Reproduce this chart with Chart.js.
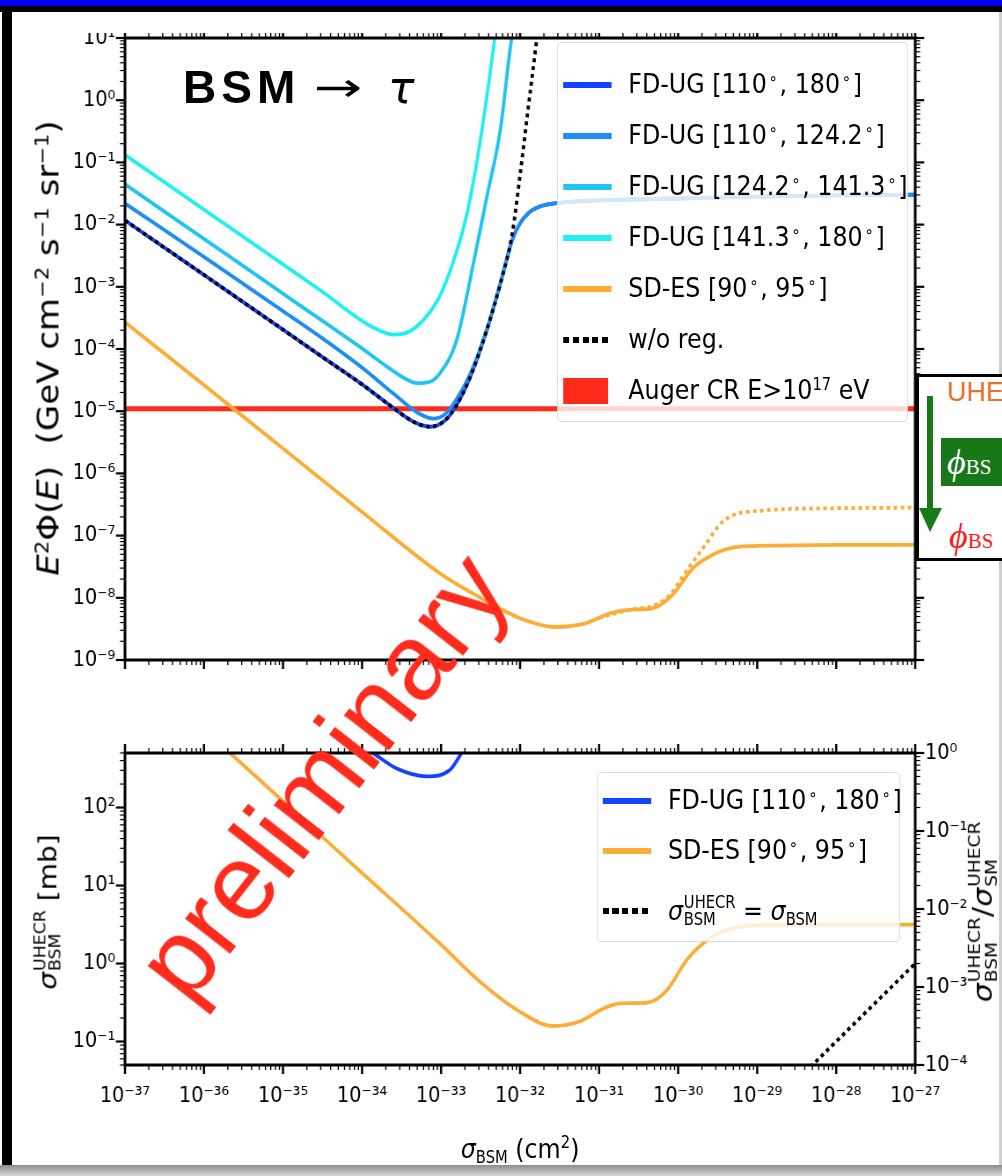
<!DOCTYPE html>
<html>
<head>
<meta charset="utf-8">
<title>BSM → τ limits</title>
<script src="https://cdn.jsdelivr.net/npm/chart.js@4.4.1/dist/chart.umd.min.js"></script>
<style>
  html, body { margin: 0; padding: 0; }
  body { position: relative; width: 1002px; height: 1176px; overflow: hidden; background: #fff;
         font-family: 'DejaVu Sans', sans-serif; color: #000; }
  .abs { position: absolute; }
  #bar { left: 0; top: 0; width: 1002px; height: 6px; background: #0000f2; }
  #frameTop { left: 0; top: 6px; width: 1002px; height: 6px; background: #000; }
  #frameLeft { left: 2px; top: 6px; width: 10px; height: 1170px; background: #000; }
  #rightLine { left: 999px; top: 12px; width: 3px; height: 1153px; background: #cfcfcf; }
  #bottomBar { left: 0; top: 1165px; width: 1002px; height: 11px; background: linear-gradient(#8c8c8c, #d8d8d8); }

  /* the matplotlib figure is squeezed horizontally in the slide: draw it wide, then scale */
  #fig { left: 0; top: 0; width: 1139px; height: 1176px; transform: scaleX(0.88); transform-origin: 0 0; }
  #topWrap { left: 0; top: 33px; width: 1139px; height: 667px; overflow: hidden; }
  #botWrap { left: 0; top: 700px; width: 1139px; height: 465px; }

  sup { font-size: 0.62em; vertical-align: 0.55em; line-height: 0; }
  sub { font-size: 0.62em; vertical-align: -0.3em; line-height: 0; }
  .deg { padding: 0 0.12em; }
  .ss { display: inline-flex; flex-direction: column; font-size: 0.62em; line-height: 1.0;
        vertical-align: 0.72em; margin-left: 1px; }

  .legend { position: absolute; background: rgba(255,255,255,0.8); border: 1px solid #d9d9d9;
            border-radius: 5px; box-sizing: border-box; font-size: 27px; }
  .row { position: absolute; left: 0; width: 100%; height: 0; }
  .sw { position: absolute; left: 6px; top: -3px; width: 55px; height: 6px; }
  .sw.dots { background: repeating-linear-gradient(90deg, #000 0 7px, transparent 7px 11px); width: 52px; }
  .sw.patch { top: -13px; height: 26px; width: 51px; }
  .txt { position: absolute; left: 80px; top: 0; transform: translateY(-52%); white-space: nowrap; line-height: 1.2; }

  .vt { transform: translate(-50%, -50%) rotate(-90deg); white-space: nowrap; line-height: 1.2; }

  #bsm { left: 183px; top: 64px; font-family: 'Liberation Sans', Arial, sans-serif; font-weight: bold;
         font-size: 46px; letter-spacing: 5px; line-height: 1; white-space: nowrap; }
  #arrow { left: 314px; top: 67px; font-size: 40px; line-height: 1; transform: scaleX(1.45); transform-origin: 0 0; }
  #tau { left: 388px; top: 66px; font-size: 44px; line-height: 1; font-style: italic; }

  #prelim { left: 322px; top: 776px; transform: translate(-50%, -50%) rotate(-52deg);
            font-family: 'Liberation Sans', Arial, sans-serif; font-size: 108px; line-height: 1;
            color: #ff2b1c; white-space: nowrap; }

  #inset { left: 916px; top: 374px; width: 120px; height: 187px; border: 3px solid #000;
           background: #fff; box-sizing: border-box; }
  #uhe { left: 947px; top: 379px; font-family: 'Liberation Sans', Arial, sans-serif; font-size: 27px;
         color: #e8712c; line-height: 1; }
  #gbox { left: 941px; top: 438px; width: 80px; height: 48px; background: #187818; }
  .phi { font-family: 'Liberation Serif', 'DejaVu Serif', serif; line-height: 1; white-space: nowrap; }
  .phi i { font-size: 36px; }
  .phi span { font-size: 21px; }
  #gphi { left: 947px; top: 444px; color: #fff; }
  #rphi { left: 949px; top: 518px; color: #ff1a1a; }
</style>
</head>
<body>
<div class="abs" id="bar"></div>
<div class="abs" id="frameTop"></div>
<div class="abs" id="frameLeft"></div>
<div class="abs" id="rightLine"></div>
<div class="abs" id="bottomBar"></div>

<div class="abs" id="fig">
  <div class="abs" id="topWrap"><canvas id="cTop" width="1139" height="667" style="width:1139px;height:667px"></canvas></div>
  <div class="abs" id="botWrap"><canvas id="cBot" width="1139" height="465" style="width:1139px;height:465px"></canvas></div>

  <!-- axis titles -->
  <div class="abs vt" style="left:55px;top:348px;font-size:34px"><i>E</i><sup>2</sup>Φ(<i>E</i>)&nbsp;&nbsp;(GeV cm<sup>−2</sup> s<sup>−1</sup> sr<sup>−1</sup>)</div>
  <div class="abs vt" style="left:55px;top:912px;font-size:28px"><i>σ</i><span class="ss"><span>UHECR</span><span>BSM</span></span> [mb]</div>
  <div class="abs vt" style="left:1117px;top:912px;font-size:30px"><i>σ</i><span class="ss"><span>UHECR</span><span>BSM</span></span>/<i>σ</i><span class="ss"><span>UHECR</span><span>SM</span></span></div>
  <div class="abs" style="left:591px;top:1148px;transform:translate(-50%,-50%);font-size:27px;white-space:nowrap"><i>σ</i><sub>BSM</sub> (cm<sup>2</sup>)</div>

  <!-- legends -->
  <div class="legend" style="left:633px;top:42px;width:399px;height:380px">
    <div class="row" style="top:42px"><span class="sw" id="swFd1"></span><span class="txt">FD-UG [110<sup class="deg">∘</sup>, 180<sup class="deg">∘</sup>]</span></div>
    <div class="row" style="top:93px"><span class="sw" id="swFd2"></span><span class="txt">FD-UG [110<sup class="deg">∘</sup>, 124.2<sup class="deg">∘</sup>]</span></div>
    <div class="row" style="top:144px"><span class="sw" id="swFd3"></span><span class="txt">FD-UG [124.2<sup class="deg">∘</sup>, 141.3<sup class="deg">∘</sup>]</span></div>
    <div class="row" style="top:195px"><span class="sw" id="swFd4"></span><span class="txt">FD-UG [141.3<sup class="deg">∘</sup>, 180<sup class="deg">∘</sup>]</span></div>
    <div class="row" style="top:246px"><span class="sw" id="swSd"></span><span class="txt">SD-ES [90<sup class="deg">∘</sup>, 95<sup class="deg">∘</sup>]</span></div>
    <div class="row" style="top:297px"><span class="sw dots"></span><span class="txt">w/o reg.</span></div>
    <div class="row" style="top:348px"><span class="sw patch" id="swAuger"></span><span class="txt">Auger CR E&gt;10<sup>17</sup> eV</span></div>
  </div>
  <div class="legend" style="left:678px;top:772px;width:345px;height:170px">
    <div class="row" style="top:28px"><span class="sw" id="swBFd1"></span><span class="txt">FD-UG [110<sup class="deg">∘</sup>, 180<sup class="deg">∘</sup>]</span></div>
    <div class="row" style="top:78px"><span class="sw" id="swBSd"></span><span class="txt">SD-ES [90<sup class="deg">∘</sup>, 95<sup class="deg">∘</sup>]</span></div>
    <div class="row" style="top:138px"><span class="sw dots"></span><span class="txt"><i>σ</i><span class="ss"><span>UHECR</span><span>BSM</span></span> = <i>σ</i><sub>BSM</sub></span></div>
  </div>
</div>

<!-- slide annotations -->
<div class="abs" id="bsm">BSM</div>
<div class="abs" id="arrow">→</div>
<div class="abs" id="tau">τ</div>
<div class="abs" id="prelim">preliminary</div>

<div class="abs" id="inset"></div>
<div class="abs" id="uhe">UHE</div>
<svg class="abs" style="left:0;top:0" width="1002" height="1176">
  <line x1="930" y1="396" x2="930" y2="512" stroke="#177a17" stroke-width="6"/>
  <polygon points="919,508 942,508 930,532" fill="#177a17"/>
</svg>
<div class="abs" id="gbox"></div>
<div class="abs phi" id="gphi"><i>ϕ</i><span>BS</span></div>
<div class="abs phi" id="rphi"><i>ϕ</i><span>BS</span></div>

<script>
// ─── AXES ─────────────────────────────────────────────────────────────────
const X_MIN = 1e-37, X_MAX = 1e-27;
const X_TICKS = [1e-37, 1e-36, 1e-35, 1e-34, 1e-33, 1e-32, 1e-31, 1e-30, 1e-29, 1e-28, 1e-27];
const TOP_Y_MIN = 1e-9, TOP_Y_MAX = 10;
const TOP_Y_TICKS = [1e-9, 1e-8, 1e-7, 1e-6, 1e-5, 1e-4, 1e-3, 1e-2, 1e-1, 1, 10];
const BOT_Y_MIN = 0.05, BOT_Y_MAX = 500;              // mb
const BOT_Y_TICKS = [0.1, 1, 10, 100];
const BOT_Y2_MIN = 1e-4, BOT_Y2_MAX = 1;             // ratio to sigma_SM
const BOT_Y2_TICKS = [1e-4, 1e-3, 1e-2, 1e-1, 1];

// ─── TOP PANEL: E^2 Phi(E) vs sigma_BSM ───────────────────────────────────
const SIGMA_FD1 = [1e-37, 1e-36, 1e-35, 3.16e-35, 1e-34, 2.51e-34, 4.47e-34, 7.24e-34, 1.12e-33, 1.58e-33, 2.34e-33, 3.80e-33, 5.62e-33, 7.94e-33, 1e-32, 1.26e-32, 1.78e-32, 3.16e-32, 1e-31, 1e-30, 1e-29, 1e-28, 1e-27];
const FLUX_FD1 = [1.17e-2, 1.55e-3, 2.04e-4, 7.41e-5, 2.69e-5, 1.12e-5, 6.76e-6, 5.62e-6, 7.08e-6, 1.26e-5, 3.55e-5, 2.04e-4, 1.12e-3, 5.62e-3, 1.05e-2, 1.51e-2, 1.95e-2, 2.24e-2, 2.45e-2, 2.63e-2, 2.82e-2, 2.95e-2, 3.02e-2];

const SIGMA_FD2 = [1e-37, 1e-36, 1e-35, 3.16e-35, 1e-34, 2.51e-34, 5.01e-34, 7.94e-34, 1.12e-33, 1.58e-33, 2.34e-33, 3.80e-33, 5.62e-33, 7.94e-33, 1e-32, 1.26e-32, 1.78e-32, 3.16e-32, 1e-31, 1e-30, 1e-29, 1e-28, 1e-27];
const FLUX_FD2 = [2.19e-2, 3.02e-3, 4.07e-4, 1.48e-4, 5.01e-5, 1.91e-5, 9.55e-6, 7.59e-6, 8.91e-6, 1.58e-5, 3.98e-5, 2.04e-4, 1.12e-3, 5.62e-3, 1.05e-2, 1.51e-2, 1.95e-2, 2.24e-2, 2.45e-2, 2.63e-2, 2.82e-2, 2.95e-2, 3.02e-2];

const SIGMA_FD3 = [1e-37, 1e-36, 1e-35, 3.16e-35, 1e-34, 2.0e-34, 3.55e-34, 5.01e-34, 7.08e-34, 9.55e-34, 1.58e-33, 2.57e-33, 3.80e-33, 5.62e-33, 7.76e-33, 1.12e-32];
const FLUX_FD3 = [4.47e-2, 5.89e-3, 7.76e-4, 2.82e-4, 1.02e-4, 5.37e-5, 3.31e-5, 2.82e-5, 2.95e-5, 3.98e-5, 1.41e-4, 2.40e-3, 2.82e-2, 3.31e-1, 9.33, 100];

const SIGMA_FD4 = [1e-37, 1e-36, 1e-35, 3.16e-35, 7.94e-35, 1.41e-34, 2.51e-34, 3.98e-34, 6.31e-34, 9.55e-34, 1.41e-33, 2.09e-33, 2.82e-33, 3.80e-33, 5.01e-33];
const FLUX_FD4 = [1.32e-1, 1.74e-2, 2.29e-3, 8.32e-4, 3.47e-4, 2.19e-4, 1.70e-4, 1.91e-4, 3.16e-4, 6.92e-4, 2.40e-3, 1.35e-2, 9.77e-2, 1.15, 15.8];

const SIGMA_SD = [1e-37, 1e-36, 1e-35, 1e-34, 1e-33, 3.16e-33, 1e-32, 2.75e-32, 6.31e-32, 1.45e-31, 2.63e-31, 4.68e-31, 8.51e-31, 1.55e-30, 2.82e-30, 5.13e-30, 1.70e-29, 1e-28, 1e-27];
const FLUX_SD = [2.69e-4, 2.63e-5, 2.51e-6, 2.40e-7, 2.40e-8, 1.0e-8, 4.68e-9, 3.39e-9, 3.80e-9, 5.75e-9, 6.46e-9, 6.76e-9, 1.12e-8, 3.02e-8, 5.01e-8, 6.46e-8, 6.92e-8, 7.08e-8, 7.08e-8];

const SIGMA_SD_NOREG = [1e-31, 2.51e-31, 5.01e-31, 7.94e-31, 1.15e-30, 2.09e-30, 3.80e-30, 1.10e-29, 1e-28, 1e-27];
const FLUX_SD_NOREG = [4.79e-9, 6.46e-9, 7.59e-9, 1.12e-8, 2.24e-8, 6.46e-8, 1.74e-7, 2.51e-7, 2.75e-7, 2.82e-7];

const SIGMA_NOREG = [1e-37, 1e-36, 1e-35, 3.16e-35, 1e-34, 2.51e-34, 4.47e-34, 7.24e-34, 1.12e-33, 1.58e-33, 2.34e-33, 3.80e-33, 5.62e-33, 7.94e-33, 1e-32, 1.26e-32, 1.62e-32, 2.0e-32];
const FLUX_NOREG = [1.17e-2, 1.55e-3, 2.04e-4, 7.41e-5, 2.69e-5, 1.12e-5, 6.76e-6, 5.62e-6, 7.08e-6, 1.26e-5, 3.55e-5, 2.04e-4, 1.12e-3, 7.08e-3, 6.31e-2, 7.08e-1, 9.33, 100];

const SIGMA_AUGER = [1e-37, 1e-27];
const FLUX_AUGER = [1.1e-5, 1.1e-5];

// ─── BOTTOM PANEL: sigma_BSM^UHECR [mb] vs sigma_BSM ──────────────────────
const SIGMA_B_FD1 = [1.12e-34, 1.38e-34, 2.75e-34, 6.61e-34, 1.29e-33, 1.82e-33, 2.24e-33];
const XSEC_B_FD1 = [575, 500, 316, 251, 302, 500, 676];

const SIGMA_B_SD = [1.26e-36, 2.29e-36, 1e-35, 1e-34, 1e-33, 3.16e-33, 1e-32, 2.63e-32, 5.75e-32, 1.12e-31, 1.86e-31, 4.07e-31, 7.24e-31, 1.29e-30, 2.34e-30, 4.17e-30, 9.12e-30, 5.25e-29, 1e-27];
const XSEC_B_SD = [813, 468, 120, 14.5, 1.74, 0.575, 0.240, 0.158, 0.182, 0.263, 0.309, 0.316, 0.457, 1.12, 2.0, 2.69, 3.09, 3.16, 3.16];

const SIGMA_DIAG = [1e-29, 1e-28, 1e-27];
const XSEC_DIAG = [0.01, 0.1, 1];

// ─── STYLE ────────────────────────────────────────────────────────────────
const C_FD1 = '#1443ff';
const C_FD2 = '#1f8ef2';
const C_FD3 = '#20c4f2';
const C_FD4 = '#22f0f0';
const C_SD = '#fbad35';
const C_AUGER = '#ff2a1a';
const FONT = "'DejaVu Sans', sans-serif";

// ─── HELPERS ──────────────────────────────────────────────────────────────
const SUP = { '-': '⁻', '0': '⁰', '1': '¹', '2': '²', '3': '³', '4': '⁴', '5': '⁵', '6': '⁶', '7': '⁷', '8': '⁸', '9': '⁹' };
function pow10Label(v) {
  const e = Math.round(Math.log10(v));
  return '10' + String(e).split('').map(c => SUP[c]).join('');
}

function logTickValues(min, max) {
  const out = [];
  for (let e = Math.floor(Math.log10(min)); e <= Math.ceil(Math.log10(max)); e++) {
    for (let k = 1; k <= 9; k++) {
      const v = k * Math.pow(10, e);
      if (v >= min * 0.9999 && v <= max * 1.0001) out.push({ v, major: k === 1 });
    }
  }
  return out;
}

function series(xs, ys, color, width, dash) {
  return {
    data: xs.map((x, i) => ({ x, y: ys[i] })),
    borderColor: color,
    borderWidth: width,
    borderDash: dash || [],
    pointRadius: 0,
    fill: false,
    cubicInterpolationMode: 'monotone',
  };
}

function logAxis(min, max, ticks, extra) {
  return Object.assign({
    type: 'logarithmic',
    min, max,
    grid: { display: false, drawTicks: false },
    border: { display: false },
    afterBuildTicks: s => { s.ticks = ticks.map(v => ({ value: v })); },
    ticks: {
      callback: v => pow10Label(v),
      font: { family: FONT, size: 22 },
      color: '#000',
      autoSkip: false,
      maxRotation: 0,
      padding: 11,
    },
  }, extra || {});
}

// frame + log tick marks (major / minor), drawn outward on each requested side
const frameTicks = {
  id: 'frameTicks',
  afterDraw(chart, args, opts) {
    const { ctx, chartArea: a } = chart;
    ctx.save();
    ctx.strokeStyle = '#000';
    ctx.lineCap = 'butt';
    for (const [id, edge] of opts.sides) {
      const s = chart.scales[id];
      const vertical = edge === 'left' || edge === 'right';
      for (const t of logTickValues(s.min, s.max)) {
        const p = s.getPixelForValue(t.v);
        const len = (t.major ? 9 : 5) * (vertical ? 1.14 : 1);
        ctx.lineWidth = (t.major ? 2.2 : 1.2) * (vertical ? 1 : 1.14);
        ctx.beginPath();
        if (edge === 'bottom') { ctx.moveTo(p, a.bottom); ctx.lineTo(p, a.bottom + len); }
        if (edge === 'top') { ctx.moveTo(p, a.top); ctx.lineTo(p, a.top - len); }
        if (edge === 'left') { ctx.moveTo(a.left, p); ctx.lineTo(a.left - len, p); }
        if (edge === 'right') { ctx.moveTo(a.right, p); ctx.lineTo(a.right + len, p); }
        ctx.stroke();
      }
    }
    ctx.lineWidth = 3;
    ctx.strokeRect(a.left, a.top, a.right - a.left, a.bottom - a.top);
    ctx.restore();
  },
};

// fixed axis boxes so the plot frames land where the figure has them
function pinY(width) {
  return s => { s.width = width; s.paddingTop = 0; s.paddingBottom = 0; };
}

const baseOptions = {
  responsive: false,
  animation: false,
  devicePixelRatio: 1,
  events: [],
};

// ─── TOP CHART ────────────────────────────────────────────────────────────
new Chart(document.getElementById('cTop'), {
  type: 'line',
  data: {
    datasets: [
      series(SIGMA_NOREG, FLUX_NOREG, '#000', 3.8, [4, 4]),
      series(SIGMA_SD_NOREG, FLUX_SD_NOREG, C_SD, 3.8, [4, 4]),
      series(SIGMA_SD, FLUX_SD, C_SD, 3.8),
      series(SIGMA_FD4, FLUX_FD4, C_FD4, 3.8),
      series(SIGMA_FD3, FLUX_FD3, C_FD3, 3.8),
      series(SIGMA_FD2, FLUX_FD2, C_FD2, 3.8),
      series(SIGMA_FD1, FLUX_FD1, C_FD1, 3.8),
      series(SIGMA_AUGER, FLUX_AUGER, C_AUGER, 5),
    ],
  },
  options: Object.assign({}, baseOptions, {
    layout: { padding: { left: 0, top: 5, right: 99, bottom: 40 } },
    plugins: {
      legend: { display: false },
      tooltip: { enabled: false },
      frameTicks: { sides: [['x', 'bottom'], ['x', 'top'], ['y', 'left'], ['y', 'right']] },
    },
    scales: {
      x: logAxis(X_MIN, X_MAX, X_TICKS, { display: false }),
      y: logAxis(TOP_Y_MIN, TOP_Y_MAX, TOP_Y_TICKS, { afterFit: pinY(142) }),
    },
  }),
  plugins: [frameTicks],
});

// ─── BOTTOM CHART ─────────────────────────────────────────────────────────
const botX = logAxis(X_MIN, X_MAX, X_TICKS, { afterFit: s => { s.height = 100; s.paddingLeft = 0; s.paddingRight = 0; } });
botX.ticks = Object.assign({}, botX.ticks, { padding: 18 });

new Chart(document.getElementById('cBot'), {
  type: 'line',
  data: {
    datasets: [
      series(SIGMA_B_FD1, XSEC_B_FD1, C_FD1, 3.8),
      series(SIGMA_B_SD, XSEC_B_SD, C_SD, 3.8),
      series(SIGMA_DIAG, XSEC_DIAG, '#000', 3.8, [4, 4]),
    ],
  },
  options: Object.assign({}, baseOptions, {
    layout: { padding: { left: 0, top: 53, right: 0, bottom: 0 } },
    plugins: {
      legend: { display: false },
      tooltip: { enabled: false },
      frameTicks: { sides: [['x', 'bottom'], ['x', 'top'], ['y', 'left'], ['y2', 'right']] },
    },
    scales: {
      x: botX,
      y: logAxis(BOT_Y_MIN, BOT_Y_MAX, BOT_Y_TICKS, { afterFit: pinY(142) }),
      y2: logAxis(BOT_Y2_MIN, BOT_Y2_MAX, BOT_Y2_TICKS, { position: 'right', afterFit: pinY(99) }),
    },
  }),
  plugins: [frameTicks],
});

// legend swatches share the series colours
document.getElementById('swFd1').style.background = C_FD1;
document.getElementById('swFd2').style.background = C_FD2;
document.getElementById('swFd3').style.background = C_FD3;
document.getElementById('swFd4').style.background = C_FD4;
document.getElementById('swSd').style.background = C_SD;
document.getElementById('swAuger').style.background = C_AUGER;
document.getElementById('swBFd1').style.background = C_FD1;
document.getElementById('swBSd').style.background = C_SD;
</script>
</body>
</html>
